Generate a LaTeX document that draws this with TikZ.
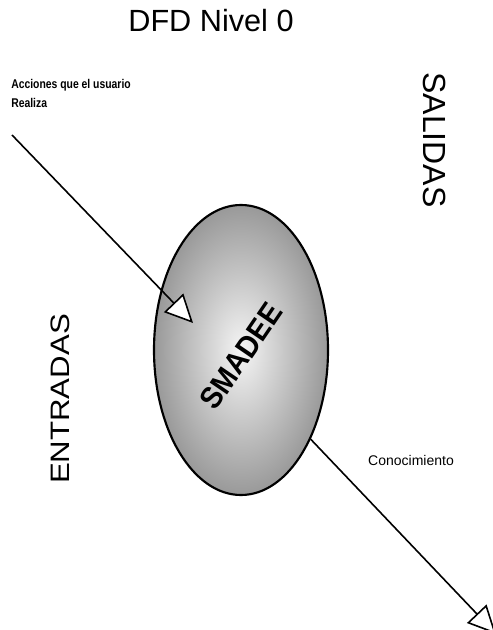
\documentclass[tikz,border=0pt]{standalone}
\usepackage{fontspec}
\setmainfont{Liberation Sans}
\usetikzlibrary{arrows.meta,shapes.geometric}

\tikzset{
	flecha/.style={line width=1.2pt, -{Triangle[fill=white, length=21pt, width=20pt, line width=1.2pt]}},
	proceso/.style={ellipse, draw, line width=1.6pt, inner color=gray!8, outer color=gray!80, minimum width=130.5pt, minimum height=217.5pt}
}

\begin{document}
\begin{tikzpicture}[x=0.75pt,y=0.75pt,yscale=-1,xscale=1]
	\useasboundingbox (0,0) rectangle (492,630);
	
	%Shape: Ellipse [id:smadee]
	\draw (241,350) node (smadee) [proceso] {};
	
	% Text Node
	\draw (241,356) node (nombre) [rotate=55.7, inner sep=0.75pt, font=\fontsize{23}{24}\selectfont\bfseries] {\scalebox{0.92}[1]{SMADEE}};
	
	%Straight Lines
	\coordinate (usuario) at (12,135);
	\coordinate (entrada) at (193,323);
	\draw [flecha] (usuario) -- (entrada);
	\coordinate (fin) at (496,634);
	\draw [flecha] (smadee.-52) -- (fin);
	
	% Text Node
	\draw (211,21) node (titulo) [inner sep=0.75pt, font=\fontsize{23}{26}\selectfont] {DFD Nivel 0};
	% Text Node
	\draw (10,78) node (acciones) [anchor=north west, inner sep=0.75pt, align=left, font=\fontsize{9.5}{14}\selectfont\bfseries] {\scalebox{0.82}[1]{Acciones que el usuario}\\\scalebox{0.82}[1]{Realiza}};
	% Text Node
	\draw (435,140) node (salidas) [rotate=-90, inner sep=0.75pt, font=\fontsize{24}{26}\selectfont] {SALIDAS};
	% Text Node
	\draw (60,399) node (entradas) [rotate=90, inner sep=0.75pt, font=\fontsize{20}{22}\selectfont] {\scalebox{1.17}[1]{ENTRADAS}};
	% Text Node
	\draw (411,460) node (conocimiento) [inner sep=0.75pt, font=\fontsize{10.5}{12}\selectfont] {Conocimiento};
	
\end{tikzpicture}
\end{document}
